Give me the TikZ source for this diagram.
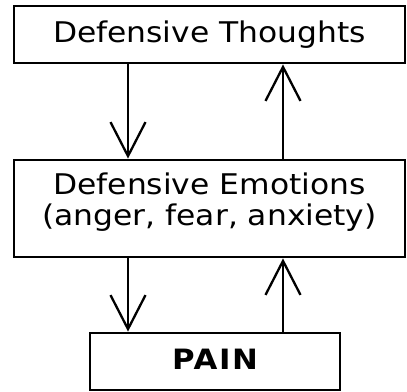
\documentclass[tikz,border=0pt]{standalone}
\usepackage{fontspec}
\setmainfont{DejaVu Sans}[FakeStretch=1.1]
\newfontfamily\painfont{DejaVu Sans}[FakeStretch=1.1,LetterSpace=6]
\usetikzlibrary{arrows.meta}
\begin{document}
\begin{tikzpicture}[x=1pt,y=-1pt,
  box/.style={draw,line width=2.8pt,inner sep=0pt,font=\fontsize{28.5}{31}\selectfont,align=center},
  conn/.style={line width=2.3pt,-{Straight Barb[length=34pt,width=35pt,line width=2.3pt]}}]
\useasboundingbox (0,0) rectangle (407,391);
\node[box,minimum width=391pt,minimum height=57pt] (thoughts) at (209.5,34.5) {Defensive Thoughts};
\node[box,minimum width=391pt,minimum height=97pt] (emotions) at (209.5,208.5) {Defensive Emotions\\(anger, fear, anxiety)\rule[-17.7pt]{0pt}{1pt}};
\node[box,minimum width=250pt,minimum height=57pt,font=\painfont\bfseries\fontsize{28}{30}\selectfont] (pain) at (215,361.5) {PAIN\rule[-5.4pt]{0pt}{1pt}};
\draw[conn] (thoughts.south -| 128,0) -- (emotions.north -| 128,0);
\draw[conn] (emotions.north -| 283,0) -- (thoughts.south -| 283,0);
\draw[conn] (emotions.south -| 128,0) -- (pain.north -| 128,0);
\draw[conn] (pain.north -| 283,0) -- (emotions.south -| 283,0);
\end{tikzpicture}
\end{document}
